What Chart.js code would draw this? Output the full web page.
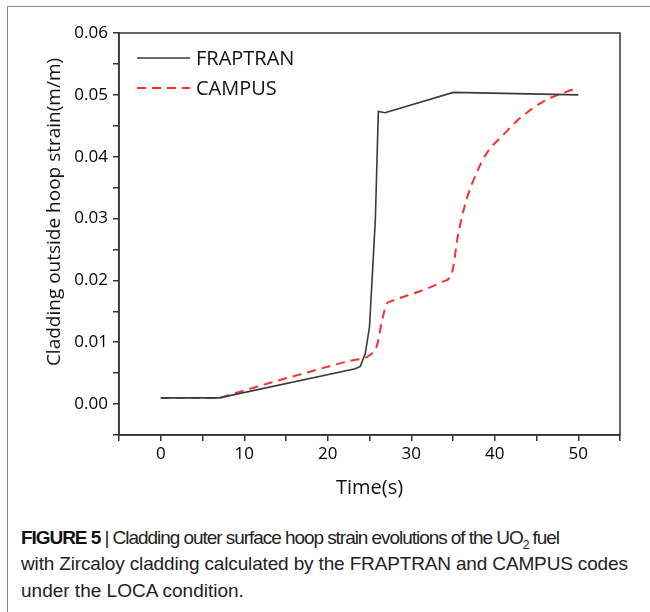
<!DOCTYPE html>
<html>
<head>
<meta charset="utf-8">
<script src="https://cdn.jsdelivr.net/npm/chart.js@4/dist/chart.umd.min.js"></script>
<style>
  body { margin: 0; background: #fff; }
  #frame {
    position: absolute; left: 7px; top: 6px; width: 643px; height: 606px;
    border-top: 1.5px solid #8a8a8a; border-left: 1.5px solid #8a8a8a;
  }
  #wrap { position: absolute; left: 0; top: 0; width: 650px; height: 510px; }
  .cap {
    position: absolute; left: 21px; white-space: nowrap;
    font-family: "Liberation Sans", Arial, sans-serif; font-size: 19px; color: #222;
  }
  .cap b { font-weight: bold; color: #111; }
</style>
</head>
<body>
<div id="frame"></div>
<div id="wrap"><canvas id="strainChart"></canvas></div>
<div class="cap" style="top:527px; letter-spacing:-1.05px;"><b>FIGURE 5</b> | Cladding outer surface hoop strain evolutions of the UO<sub style="font-size:12px">2</sub> fuel</div>
<div class="cap" style="top:553px; letter-spacing:-0.15px;">with Zircaloy cladding calculated by the FRAPTRAN and CAMPUS codes</div>
<div class="cap" style="top:580px;">under the LOCA condition.</div>
<script>
'use strict';

// time (s) and hoop strain (m/m)
let frapTime = [0, 7, 23.3, 23.9, 24.5, 25.0, 25.7, 26.06, 26.86, 35.04, 50];
let frapStrain = [0.001, 0.001, 0.0057, 0.0061, 0.0082, 0.0125, 0.0298, 0.0473, 0.0471, 0.0504, 0.0500];

let campusTime = [0, 7, 8, 10, 13, 16.7, 22.7, 24.5, 25.3, 25.9, 26.5, 27.1, 27.5, 33.8, 34.85, 35.6, 36.6, 37.8, 39.0, 41.0, 43.0, 45.8, 49.6];
let campusStrain = [0.001, 0.001, 0.0014, 0.0022, 0.0034, 0.0048, 0.0070, 0.0075, 0.0082, 0.0095, 0.0135, 0.0163, 0.0166, 0.0198, 0.0211, 0.0273, 0.0330, 0.0373, 0.0405, 0.0435, 0.0462, 0.0489, 0.0510];

let seriesNames = ['FRAPTRAN', 'CAMPUS'];
let xTickLabels = [0, 10, 20, 30, 40, 50];
let yTickLabels = ['0.00', '0.01', '0.02', '0.03', '0.04', '0.05', '0.06'];

function toPoints(xs, ys) {
  let pts = [];
  for (let i = 0; i < xs.length; i++) {
    pts.push({ x: xs[i], y: ys[i] });
  }
  return pts;
}

const axisColor = '#333';
const tickFont = { family: '"Open Sans", sans-serif', size: 17 };

// box around plot, axis titles and the legend
const decorations = {
  id: 'decorations',
  afterDraw(chart) {
    let ctx = chart.ctx;
    let a = chart.chartArea;
    ctx.save();
    ctx.strokeStyle = axisColor;
    ctx.lineWidth = 1.5;
    ctx.strokeRect(a.left, a.top, a.right - a.left, a.bottom - a.top);

    ctx.fillStyle = '#111';
    ctx.font = '20px "Open Sans", sans-serif';
    ctx.textAlign = 'center';
    ctx.textBaseline = 'middle';
    ctx.fillText('Time(s)', (a.left + a.right) / 2, 488);

    ctx.save();
    ctx.translate(55, 212);
    ctx.rotate(-Math.PI / 2);
    ctx.font = '19px "Open Sans", sans-serif';
    ctx.fillText('Cladding outside hoop strain(m/m)', 0, 0);
    ctx.restore();

    // legend
    let ds = chart.data.datasets;
    let rows = [58, 88];
    ctx.textAlign = 'left';
    for (let i = 0; i < ds.length; i++) {
      ctx.beginPath();
      ctx.strokeStyle = ds[i].borderColor;
      ctx.lineWidth = ds[i].borderWidth;
      ctx.setLineDash(ds[i].borderDash || []);
      ctx.moveTo(137, rows[i]);
      ctx.lineTo(190, rows[i]);
      ctx.stroke();
      ctx.setLineDash([]);
      ctx.fillStyle = '#111';
      ctx.fillText(seriesNames[i], 196, rows[i] + 1);
    }
    ctx.restore();
  }
};

const ctx = document.getElementById('strainChart');

let config = {
  type: 'line',
  data: {
    datasets: [
      {
        label: seriesNames[0],
        data: toPoints(frapTime, frapStrain),
        borderColor: '#3a3a3a',
        borderWidth: 1.6,
        pointRadius: 0,
        tension: 0
      },
      {
        label: seriesNames[1],
        data: toPoints(campusTime, campusStrain),
        borderColor: '#ff2e2e',
        borderWidth: 2,
        borderDash: [9, 6],
        pointRadius: 0,
        cubicInterpolationMode: 'monotone'
      }
    ]
  },
  options: {
    responsive: true,
    maintainAspectRatio: false,
    animation: false,
    layout: { padding: { top: 33, right: 30, left: 0, bottom: 0 } },
    plugins: { legend: { display: false }, tooltip: { enabled: false } },
    scales: {
      x: {
        type: 'linear',
        min: -5,
        max: 55,
        afterFit(scale) { scale.height = 75; },
        afterBuildTicks(scale) {
          let ticks = [];
          for (let v = -5; v <= 55; v += 5) ticks.push({ value: v });
          scale.ticks = ticks;
        },
        ticks: {
          autoSkip: false,
          maxRotation: 0,
          padding: 3,
          color: '#000',
          font: tickFont,
          callback: (v) => xTickLabels.includes(v) ? String(v) : ''
        },
        grid: { drawOnChartArea: false, drawTicks: true, tickLength: 6, color: axisColor, lineWidth: 1.5 },
        border: { color: axisColor, width: 1.5 }
      },
      y: {
        min: -0.005,
        max: 0.06,
        afterFit(scale) { scale.width = 119; },
        afterBuildTicks(scale) {
          let ticks = [];
          for (let i = -1; i <= 12; i++) ticks.push({ value: i * 0.005 });
          scale.ticks = ticks;
        },
        ticks: {
          autoSkip: false,
          padding: 5,
          color: '#000',
          font: tickFont,
          callback: function (v) {
            let k = Math.round(v * 200);
            return (k >= 0 && k % 2 === 0) ? yTickLabels[k / 2] : '';
          }
        },
        grid: { drawOnChartArea: false, drawTicks: true, tickLength: 6, color: axisColor, lineWidth: 1.5 },
        border: { color: axisColor, width: 1.5 }
      }
    }
  },
  plugins: [decorations]
};

let strainChart = new Chart(ctx, config);
</script>
</body>
</html>
